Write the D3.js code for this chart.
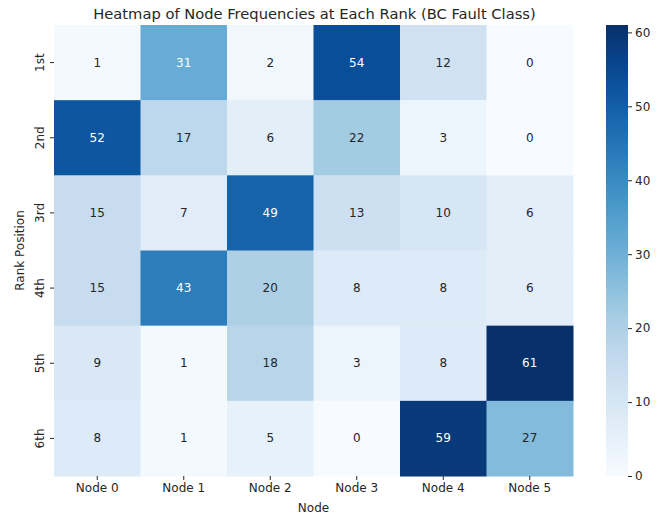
<!DOCTYPE html>
<html><head><meta charset="utf-8">
<script src="https://cdn.jsdelivr.net/npm/d3@7"></script>
<style>body{margin:0;background:#fff;} text{font-family:"DejaVu Sans",sans-serif;}</style>
</head><body>
<svg id="chart" width="672" height="516"></svg>
<script>
const nodes = ["Node 0","Node 1","Node 2","Node 3","Node 4","Node 5"];
const ranks = ["1st","2nd","3rd","4th","5th","6th"];
const values = [
  [1,31,2,54,12,0],
  [52,17,6,22,3,0],
  [15,7,49,13,10,6],
  [15,43,20,8,8,6],
  [9,1,18,3,8,61],
  [8,1,5,0,59,27]
];
const cbarTicks = [0,10,20,30,40,50,60];
const title = "Heatmap of Node Frequencies at Each Rank (BC Fault Class)";

const svg = d3.select("#chart");
const pL = 54, pR = 573, pT = 25, pB = 476;
const x = d3.scaleBand().domain(nodes).range([pL, pR]);
const y = d3.scaleBand().domain(ranks).range([pT, pB]);
const vmax = d3.max(values.flat()), vmin = d3.min(values.flat());
const blues = ["#f7fbff","#deebf7","#c6dbef","#9ecae1","#6baed6","#4292c6","#2171b5","#08519c","#08306b"];
const color = d3.scaleLinear()
  .domain(blues.map((_, i) => vmin + (vmax - vmin) * i / (blues.length - 1)))
  .range(blues).interpolate(d3.interpolateRgb);

const cells = [];
values.forEach((row, i) => row.forEach((v, j) => cells.push({r: ranks[i], n: nodes[j], v})));

svg.append("g").selectAll("rect").data(cells).join("rect")
  .attr("x", d => x(d.n)).attr("y", d => y(d.r))
  .attr("width", x.bandwidth() + 0.5).attr("height", y.bandwidth() + 0.5)
  .attr("fill", d => color(d.v));

function lum(c) {
  const rgb = d3.rgb(c);
  const f = u => { u /= 255; return u <= 0.03928 ? u / 12.92 : Math.pow((u + 0.055) / 1.055, 2.4); };
  return 0.2126 * f(rgb.r) + 0.7152 * f(rgb.g) + 0.0722 * f(rgb.b);
}
svg.append("g").selectAll("text").data(cells).join("text")
  .attr("x", d => x(d.n) + x.bandwidth() / 2)
  .attr("y", d => y(d.r) + y.bandwidth() / 2)
  .attr("text-anchor", "middle").attr("dominant-baseline", "central")
  .attr("font-size", 12)
  .attr("fill", d => lum(color(d.v)) > 0.408 ? "#262626" : "#ffffff")
  .text(d => d.v);

// x axis
const xa = svg.append("g").attr("transform", `translate(0,${pB})`)
  .call(d3.axisBottom(x).tickSize(4).tickPadding(3));
xa.select(".domain").remove();
xa.selectAll("line").attr("stroke", "#262626");
xa.selectAll("text").attr("font-size", 12).attr("fill", "#262626").attr("font-family", "DejaVu Sans");

// y axis
const ya = svg.append("g").attr("transform", `translate(${pL},0)`)
  .call(d3.axisLeft(y).tickSize(4).tickPadding(3));
ya.select(".domain").remove();
ya.selectAll("line").attr("stroke", "#262626");
ya.selectAll("text").attr("font-size", 12).attr("fill", "#262626").attr("font-family", "DejaVu Sans")
  .attr("text-anchor", "middle").attr("x", null).attr("y", null).attr("dy", null)
  .attr("dominant-baseline", "text-after-edge")
  .attr("transform", "translate(-7,0) rotate(-90)");

// axis labels
svg.append("text").attr("x", (pL + pR) / 2).attr("y", 512)
  .attr("text-anchor", "middle").attr("font-size", 12).attr("fill", "#262626").text("Node");
svg.append("text").attr("transform", `translate(24,${(pT + pB) / 2}) rotate(-90)`)
  .attr("text-anchor", "middle").attr("font-size", 12).attr("fill", "#262626").text("Rank Position");

// title
svg.append("text").attr("x", 314.5).attr("y", 18.5)
  .attr("text-anchor", "middle").attr("font-size", 14.7).attr("fill", "#262626").text(title);

// colorbar
const cbx = 606, cbw = 22;
const defs = svg.append("defs");
const grad = defs.append("linearGradient").attr("id", "cb").attr("x1", 0).attr("x2", 0).attr("y1", 1).attr("y2", 0);
d3.range(0, 1.0001, 0.05).forEach(t => {
  grad.append("stop").attr("offset", t).attr("stop-color", color(vmin + t * (vmax - vmin)));
});
svg.append("rect").attr("x", cbx).attr("y", pT).attr("width", cbw).attr("height", pB - pT).attr("fill", "url(#cb)");
const cy = d3.scaleLinear().domain([vmin, vmax]).range([pB, pT]);
const ca = svg.append("g").attr("transform", `translate(${cbx + cbw},0)`)
  .call(d3.axisRight(cy).tickValues(cbarTicks).tickSize(4).tickPadding(3));
ca.select(".domain").remove();
ca.selectAll("line").attr("stroke", "#262626");
ca.selectAll("text").attr("font-size", 12).attr("fill", "#262626").attr("font-family", "DejaVu Sans");
</script>
</body></html>
